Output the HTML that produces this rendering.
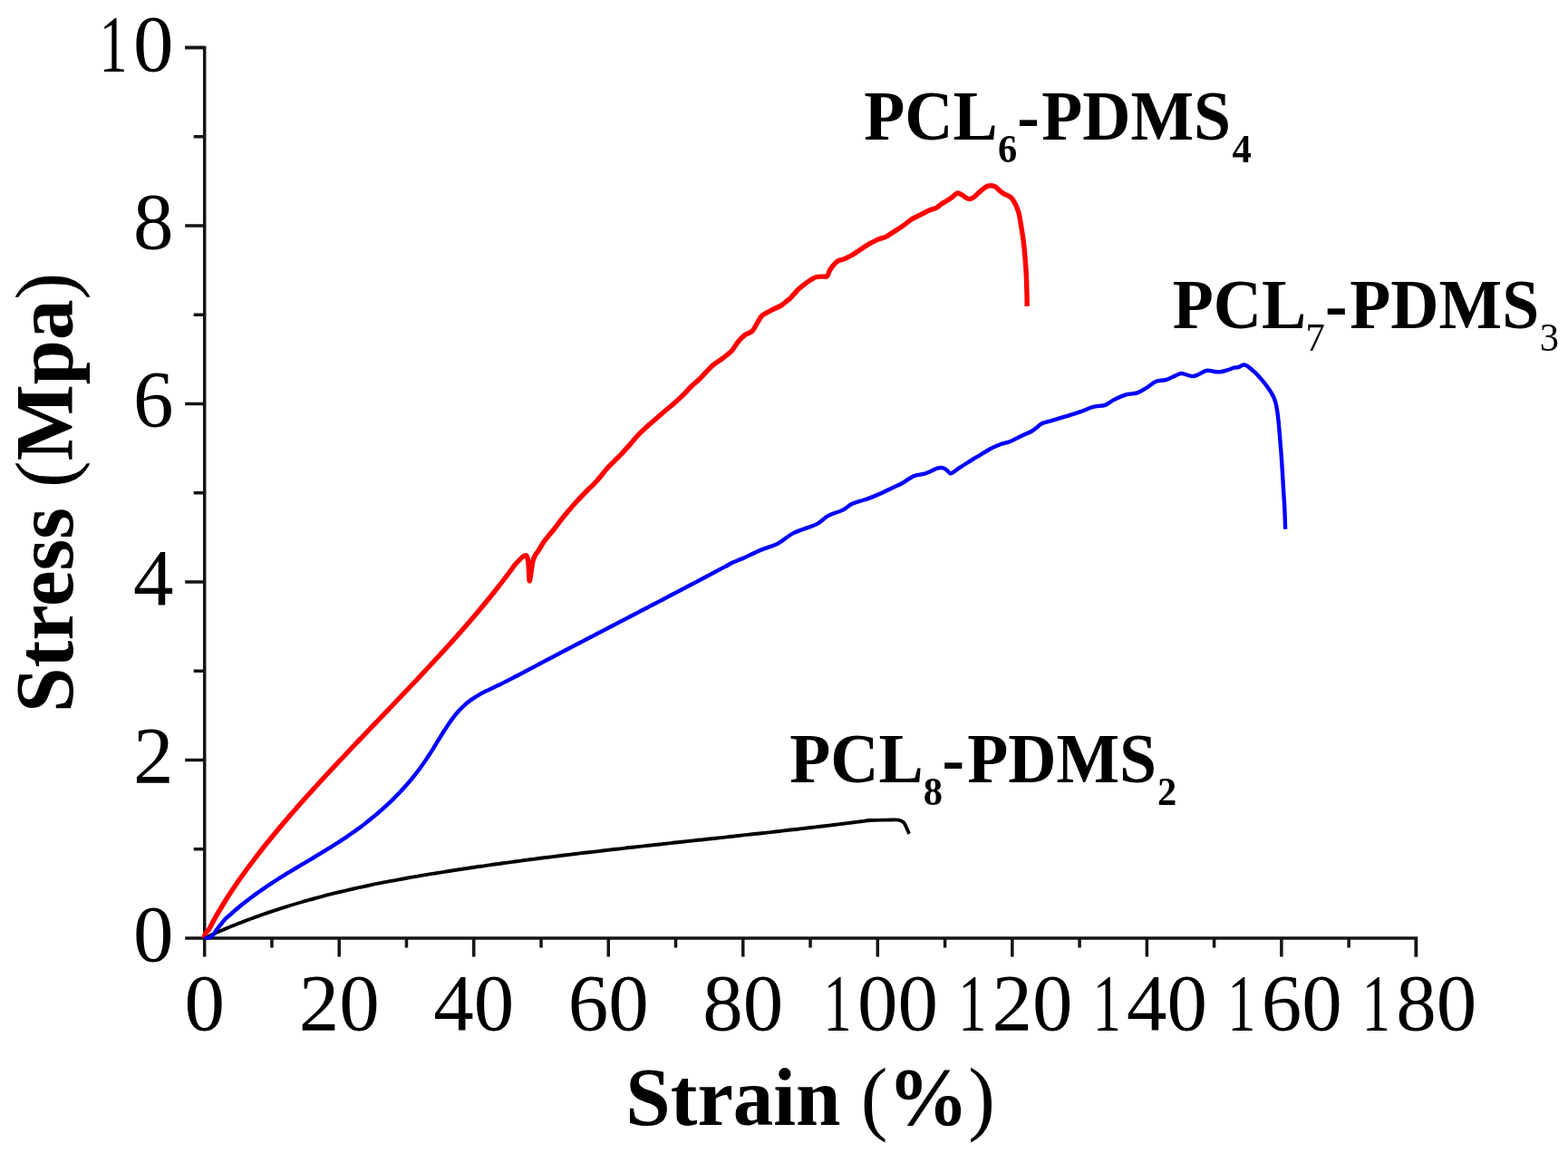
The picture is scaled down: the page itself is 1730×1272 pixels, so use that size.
<!DOCTYPE html>
<html><head><meta charset="utf-8"><style>
html,body{margin:0;padding:0;background:#fff;}
body{width:1730px;height:1272px;overflow:hidden;}
svg{display:block;}
text{font-family:"Liberation Serif","Times New Roman",serif;fill:#000;}
</style></head><body>
<svg width="1730" height="1272" viewBox="0 0 1730 1272">
<path d="M204.2 52.5H225.7V1034.9H1562.4V1055.4" fill="none" stroke="#151515" stroke-width="3.5" stroke-linejoin="miter"/>
<path d="M225.70 1034.90V1055.40M299.96 1034.90V1045.40M374.22 1034.90V1055.40M448.48 1034.90V1045.40M522.74 1034.90V1055.40M597.01 1034.90V1045.40M671.27 1034.90V1055.40M745.53 1034.90V1045.40M819.79 1034.90V1055.40M894.05 1034.90V1045.40M968.31 1034.90V1055.40M1042.57 1034.90V1045.40M1116.83 1034.90V1055.40M1191.09 1034.90V1045.40M1265.36 1034.90V1055.40M1339.62 1034.90V1045.40M1413.88 1034.90V1055.40M1488.14 1034.90V1045.40M1562.40 1034.90V1055.40M225.70 1034.90H204.20M225.70 936.66H213.70M225.70 838.42H204.20M225.70 740.18H213.70M225.70 641.94H204.20M225.70 543.70H213.70M225.70 445.46H204.20M225.70 347.22H213.70M225.70 248.98H204.20M225.70 150.74H213.70M225.70 52.50H204.20" fill="none" stroke="#151515" stroke-width="3.5"/>
<g fill="none" stroke-linejoin="round" stroke-linecap="butt">
<path stroke="#000" stroke-width="3.9" d="M225.6,1034.8C226.7,1034.3 230.1,1032.8 232.0,1031.9C233.9,1031.0 235.3,1030.4 237.0,1029.7C238.7,1028.9 240.3,1028.2 242.0,1027.5C243.7,1026.8 245.3,1026.1 247.0,1025.4C248.7,1024.7 250.3,1024.0 252.0,1023.3C253.7,1022.6 255.3,1021.9 257.0,1021.2C258.7,1020.6 260.3,1019.9 262.0,1019.2C263.7,1018.6 265.3,1017.9 267.0,1017.3C268.7,1016.6 270.3,1016.0 272.0,1015.4C273.7,1014.7 275.3,1014.1 277.0,1013.5C278.7,1012.9 280.3,1012.3 282.0,1011.7C283.7,1011.1 285.3,1010.5 287.0,1009.9C288.7,1009.3 290.3,1008.7 292.0,1008.1C293.7,1007.5 295.7,1006.9 297.0,1006.4C298.3,1005.9 298.5,1005.9 300.0,1005.4C302.2,1004.7 306.7,1003.2 310.0,1002.1C313.3,1001.0 316.7,1000.0 320.0,999.0C323.3,998.0 326.7,997.0 330.0,996.0C333.3,995.0 336.7,994.0 340.0,993.1C343.3,992.2 346.7,991.3 350.0,990.4C353.3,989.5 356.7,988.6 360.0,987.7C363.3,986.9 366.7,986.0 370.0,985.2C373.3,984.4 376.7,983.6 380.0,982.8C383.3,982.0 386.7,981.3 390.0,980.5C393.3,979.8 396.7,979.0 400.0,978.3C403.3,977.6 406.7,976.9 410.0,976.2C413.3,975.5 416.7,974.8 420.0,974.2C423.3,973.5 426.7,972.9 430.0,972.2C433.3,971.6 436.7,971.0 440.0,970.4C443.3,969.7 446.7,969.1 450.0,968.5C453.3,967.9 456.7,967.4 460.0,966.8C463.3,966.2 466.7,965.7 470.0,965.1C473.3,964.5 476.7,964.0 480.0,963.5C483.3,962.9 486.7,962.4 490.0,961.9C493.3,961.3 496.7,960.8 500.0,960.3C503.3,959.8 506.7,959.3 510.0,958.8C513.3,958.3 516.7,957.8 520.0,957.3C523.3,956.8 526.7,956.3 530.0,955.8C533.3,955.3 536.7,954.9 540.0,954.4C543.3,953.9 546.7,953.4 550.0,953.0C553.3,952.5 556.7,952.1 560.0,951.6C563.3,951.1 566.7,950.7 570.0,950.2C573.3,949.8 576.7,949.4 580.0,948.9C583.3,948.5 586.7,948.0 590.0,947.6C593.3,947.2 596.7,946.8 600.0,946.3C603.3,945.9 606.7,945.5 610.0,945.1C613.3,944.7 616.7,944.2 620.0,943.8C623.3,943.4 626.7,943.0 630.0,942.6C633.3,942.2 636.7,941.8 640.0,941.4C643.3,941.0 646.7,940.6 650.0,940.2C653.3,939.8 656.7,939.4 660.0,939.1C663.3,938.7 666.7,938.3 670.0,937.9C673.3,937.5 676.7,937.1 680.0,936.7C683.3,936.4 686.7,936.0 690.0,935.6C693.3,935.2 696.7,934.9 700.0,934.5C703.3,934.1 706.7,933.7 710.0,933.4C713.3,933.0 716.7,932.6 720.0,932.3C723.3,931.9 726.7,931.5 730.0,931.2C733.3,930.8 736.7,930.4 740.0,930.1C743.3,929.7 746.7,929.4 750.0,929.0C753.3,928.6 756.7,928.3 760.0,927.9C763.3,927.5 766.7,927.2 770.0,926.8C773.3,926.5 776.7,926.1 780.0,925.7C783.3,925.4 786.7,925.0 790.0,924.7C793.3,924.3 796.7,923.9 800.0,923.6C803.3,923.2 806.7,922.8 810.0,922.5C813.3,922.1 816.7,921.8 820.0,921.4C823.3,921.0 826.7,920.7 830.0,920.3C833.3,919.9 836.7,919.6 840.0,919.2C843.3,918.8 846.7,918.4 850.0,918.1C853.3,917.7 856.7,917.3 860.0,917.0C863.3,916.6 866.7,916.2 870.0,915.8C873.3,915.4 876.7,915.1 880.0,914.7C883.3,914.3 886.7,913.9 890.0,913.5C893.3,913.1 896.7,912.8 900.0,912.4C903.3,912.0 906.7,911.6 910.0,911.2C913.3,910.8 916.7,910.4 920.0,910.0C923.3,909.6 926.7,909.2 930.0,908.8C933.3,908.4 936.7,907.9 940.0,907.5C943.3,907.1 946.7,906.7 950.0,906.3C953.3,905.9 955.1,905.3 960.0,905.0C964.9,904.7 974.0,904.7 979.2,904.6C984.4,904.5 988.4,904.1 991.4,904.6C994.4,905.1 995.6,905.9 997.1,907.4C998.6,908.9 999.3,911.4 1000.3,913.5C1001.3,915.6 1002.6,918.8 1003.1,919.9"/>
<path stroke="#ff0000" stroke-width="5.4" d="M225.6,1034.8C225.7,1034.1 225.5,1032.1 226.3,1030.5C227.1,1028.9 229.4,1026.9 230.7,1025.0C232.0,1023.1 232.8,1021.0 233.9,1019.0C234.9,1017.0 236.0,1015.0 237.2,1013.0C238.3,1011.0 239.4,1009.0 240.6,1007.0C241.8,1005.0 243.0,1003.0 244.2,1001.0C245.4,999.0 246.6,997.0 247.8,995.0C249.1,993.0 250.4,991.0 251.6,989.0C252.9,987.0 254.2,985.0 255.6,983.0C256.9,981.0 258.2,979.0 259.6,977.0C261.0,975.0 262.3,973.0 263.7,971.0C265.1,969.0 266.5,967.0 268.0,965.0C269.4,963.0 270.8,961.0 272.3,959.0C273.8,957.0 275.3,955.0 276.8,953.0C278.3,951.0 279.8,949.0 281.3,947.0C282.8,945.0 284.4,943.0 285.9,941.0C287.5,939.0 289.0,937.0 290.6,935.0C292.2,933.0 293.8,931.0 295.4,929.0C297.0,927.0 298.7,925.0 300.3,923.0C301.9,921.0 303.6,919.0 305.3,917.0C306.9,915.0 308.6,913.0 310.3,911.0C312.0,909.0 313.7,907.0 315.4,905.0C317.1,903.0 318.8,901.0 320.5,899.0C322.3,897.0 324.0,895.0 325.8,893.0C327.5,891.0 329.3,889.0 331.0,887.0C332.8,885.0 334.6,883.0 336.4,881.0C338.2,879.0 340.0,877.0 341.8,875.0C343.6,873.0 345.4,871.0 347.2,869.0C349.0,867.0 350.9,865.0 352.7,863.0C354.5,861.0 356.4,859.0 358.2,857.0C360.1,855.0 361.9,853.0 363.8,851.0C365.6,849.0 367.5,847.0 369.4,845.0C371.3,843.0 373.1,841.0 375.0,839.0C376.9,837.0 378.8,835.0 380.7,833.0C382.5,831.0 384.4,829.0 386.3,827.0C388.2,825.0 390.1,823.0 392.0,821.0C393.9,819.0 395.8,817.0 397.8,815.0C399.7,813.0 401.6,811.0 403.5,809.0C405.4,807.0 407.3,805.0 409.2,803.0C411.1,801.0 413.0,799.0 415.0,797.0C416.9,795.0 418.8,793.0 420.7,791.0C422.6,789.0 424.5,787.0 426.4,785.0C428.4,783.0 430.3,781.0 432.2,779.0C434.1,777.0 436.0,775.0 437.9,773.0C439.8,771.0 441.7,769.0 443.6,767.0C445.5,765.0 447.4,763.0 449.3,761.0C451.2,759.0 453.1,757.0 455.0,755.0C456.9,753.0 458.8,751.0 460.7,749.0C462.6,747.0 464.4,745.0 466.3,743.0C468.2,741.0 470.1,739.0 471.9,737.0C473.8,735.0 475.7,733.0 477.5,731.0C479.4,729.0 481.2,727.0 483.0,725.0C484.9,723.0 486.7,721.0 488.5,719.0C490.4,717.0 492.2,715.0 494.0,713.0C495.8,711.0 497.6,709.0 499.4,707.0C501.2,705.0 503.0,703.0 504.8,701.0C506.5,699.0 508.3,697.0 510.1,695.0C511.8,693.0 513.6,691.0 515.3,689.0C517.0,687.0 518.8,685.0 520.5,683.0C522.2,681.0 523.9,679.0 525.6,677.0C527.3,675.0 529.0,673.0 530.6,671.0C532.3,669.0 534.0,667.0 535.6,665.0C537.3,663.0 538.9,661.0 540.5,659.0C542.2,657.0 543.8,655.0 545.4,653.0C546.9,651.0 548.5,649.0 550.1,647.0C551.7,645.0 553.2,643.0 554.7,641.0C556.3,639.0 557.8,637.0 559.3,635.0C560.8,633.0 562.3,631.0 563.8,629.0C565.3,627.0 566.0,625.4 568.2,623.0C570.3,620.6 574.4,616.2 576.5,614.5C578.4,613.0 579.9,611.8 581.0,613.0C582.1,614.2 582.5,617.4 583.0,622.0C583.5,626.6 583.7,638.5 584.1,640.5C584.5,642.5 585.0,637.2 585.6,634.0C586.2,630.8 586.9,624.2 587.5,621.0C588.1,617.8 588.4,616.8 589.5,614.5C590.6,612.2 592.3,610.2 594.0,607.5C595.7,604.8 597.9,600.9 599.7,598.2C601.5,595.5 603.2,593.7 605.0,591.5C606.8,589.3 608.1,587.9 610.4,585.0C612.7,582.1 615.8,577.7 618.7,574.0C621.6,570.3 624.6,566.7 627.7,563.0C630.8,559.3 633.9,555.8 637.4,552.0C640.9,548.2 645.2,543.9 648.5,540.5C651.8,537.1 653.7,535.9 657.4,531.8C661.1,527.7 667.0,520.0 670.8,515.8C674.6,511.6 677.7,508.7 680.0,506.4C682.2,504.2 682.3,504.3 684.5,502.0C686.9,499.5 690.9,495.1 694.2,491.4C697.5,487.7 700.6,483.6 704.4,479.7C708.2,475.8 713.6,470.9 716.9,467.9C720.2,464.9 721.6,463.9 724.4,461.5C727.2,459.1 730.3,456.2 733.5,453.5C736.7,450.8 740.4,447.9 743.7,445.0C747.1,442.1 750.4,439.1 753.6,435.9C756.8,432.7 759.9,429.1 763.0,426.0C766.1,422.9 769.8,420.2 772.5,417.5C775.2,414.8 777.1,412.4 779.5,410.0C781.9,407.6 783.9,405.2 786.6,402.9C789.4,400.6 793.2,398.3 796.0,396.3C798.8,394.3 801.1,392.4 803.1,390.7C805.1,389.0 805.9,388.6 807.8,386.4C809.6,384.1 812.0,379.9 814.2,377.2C816.4,374.5 819.2,371.8 821.2,370.1C823.2,368.5 824.8,368.2 826.4,367.3C828.0,366.4 829.2,366.2 830.7,364.4C832.2,362.6 833.8,359.0 835.4,356.4C837.0,353.8 838.5,350.7 840.1,348.9C841.7,347.1 842.8,346.8 844.8,345.6C846.8,344.4 849.5,343.0 851.9,341.8C854.3,340.6 857.0,339.5 859.0,338.5C861.0,337.5 862.1,336.8 863.7,335.7C865.3,334.6 866.9,333.1 868.4,331.9C869.9,330.7 870.6,330.4 872.5,328.5C874.4,326.5 877.6,322.4 880.0,320.0C882.4,317.6 884.8,315.8 887.1,314.0C889.5,312.2 891.8,310.4 894.1,309.0C896.5,307.6 898.8,306.1 901.2,305.5C903.6,304.9 906.4,305.2 908.3,305.1C910.2,305.0 911.3,305.9 912.5,304.8C913.7,303.7 914.3,300.3 915.4,298.4C916.5,296.5 917.4,295.1 918.9,293.4C920.4,291.7 922.1,289.4 924.2,288.1C926.3,286.8 928.7,286.8 931.3,285.7C933.9,284.6 937.0,283.2 940.0,281.5C943.0,279.8 946.2,277.4 949.4,275.3C952.5,273.2 955.8,271.0 958.9,269.2C962.0,267.4 965.2,265.8 968.3,264.4C971.4,263.0 974.6,262.7 977.7,261.1C980.9,259.5 984.1,257.0 987.2,255.0C990.4,253.0 993.5,251.1 996.6,248.9C999.7,246.7 1002.6,243.9 1006.0,241.8C1009.4,239.7 1013.7,237.9 1017.0,236.2C1020.3,234.5 1023.0,233.0 1025.8,231.8C1028.5,230.6 1031.3,230.3 1033.5,229.1C1035.7,227.9 1037.1,226.1 1039.1,224.7C1041.1,223.3 1043.7,222.1 1045.7,220.8C1047.7,219.5 1049.5,218.3 1051.2,217.0C1052.9,215.7 1054.4,213.5 1056.1,213.1C1057.8,212.7 1059.4,213.9 1061.1,214.8C1062.8,215.7 1064.9,217.9 1066.5,218.7C1068.1,219.5 1069.0,219.8 1070.5,219.5C1072.0,219.2 1073.2,218.6 1075.2,217.0C1077.2,215.4 1080.1,212.1 1082.6,210.1C1085.1,208.1 1087.7,205.8 1090.2,205.1C1092.7,204.4 1095.6,204.9 1097.7,205.7C1099.8,206.5 1101.0,208.7 1102.7,210.1C1104.4,211.5 1105.7,212.6 1107.8,213.9C1109.9,215.2 1113.2,215.8 1115.3,217.7C1117.4,219.6 1118.8,222.3 1120.3,225.2C1121.8,228.1 1123.0,231.2 1124.1,235.2C1125.1,239.2 1125.8,244.1 1126.6,249.1C1127.4,254.1 1128.4,259.5 1129.1,265.4C1129.8,271.3 1130.5,278.0 1131.0,284.3C1131.5,290.6 1132.0,296.8 1132.3,303.1C1132.6,309.4 1132.8,316.2 1132.9,322.0C1133.1,327.8 1133.2,335.3 1133.2,338.0"/>
<path stroke="#0000ff" stroke-width="4.4" d="M225.6,1034.8C226.5,1034.7 229.4,1034.8 231.0,1034.3C232.6,1033.8 233.9,1032.9 235.0,1031.8C236.1,1030.7 236.7,1029.0 237.6,1027.7C238.5,1026.4 238.8,1025.9 240.2,1024.2C241.9,1022.0 245.7,1017.1 248.0,1014.5C250.3,1012.0 252.0,1010.8 254.0,1009.1C256.0,1007.3 258.0,1005.5 260.0,1003.8C262.0,1002.1 264.0,1000.5 266.0,998.8C268.0,997.2 270.0,995.6 272.0,994.1C274.0,992.5 276.0,991.0 278.0,989.5C280.0,988.0 282.0,986.5 284.0,985.1C286.0,983.7 288.0,982.3 290.0,980.9C292.0,979.5 294.0,978.2 296.0,976.8C298.0,975.5 300.0,974.2 302.0,972.9C304.0,971.6 306.0,970.3 308.0,969.0C310.0,967.8 312.0,966.5 314.0,965.3C316.0,964.1 318.0,962.8 320.0,961.6C322.0,960.4 324.0,959.2 326.0,958.0C328.0,956.8 330.0,955.6 332.0,954.4C334.0,953.2 336.0,952.0 338.0,950.9C340.0,949.7 342.0,948.5 344.0,947.3C346.0,946.1 348.0,944.9 350.0,943.7C352.0,942.5 354.0,941.3 356.0,940.1C358.0,938.9 360.0,937.7 362.0,936.4C364.0,935.2 366.0,933.9 368.0,932.7C370.0,931.4 372.0,930.1 374.0,928.8C376.0,927.5 378.0,926.2 380.0,924.9C382.0,923.5 384.0,922.2 386.0,920.8C388.0,919.4 390.0,918.0 392.0,916.6C394.0,915.1 396.0,913.7 398.0,912.2C400.0,910.7 402.0,909.2 404.0,907.6C406.0,906.1 408.0,904.5 410.0,902.8C412.0,901.2 414.0,899.6 416.0,897.9C418.0,896.1 420.0,894.4 422.0,892.6C424.0,890.8 426.0,889.0 428.0,887.1C430.0,885.3 432.0,883.3 434.0,881.4C436.0,879.4 438.0,877.4 440.0,875.3C442.0,873.2 444.0,871.1 446.0,868.8C448.0,866.6 450.0,864.3 452.0,862.0C454.0,859.6 456.0,857.1 458.0,854.6C460.0,852.0 462.0,849.4 464.0,846.7C466.0,843.9 468.0,841.1 470.0,838.1C472.0,835.2 474.3,831.5 476.0,828.9C477.7,826.3 478.0,825.7 480.0,822.5C482.0,819.3 485.3,813.7 488.0,809.5C490.7,805.3 493.3,801.1 496.0,797.2C498.7,793.4 501.3,789.8 504.0,786.7C506.7,783.6 509.3,780.8 512.0,778.4C514.7,775.9 517.3,773.8 520.0,771.9C522.7,770.0 525.3,768.4 528.0,766.8C530.7,765.3 533.3,763.9 536.0,762.6C538.7,761.3 541.3,760.0 544.0,758.8C546.7,757.5 549.3,756.2 552.0,754.9C554.7,753.6 557.3,752.2 560.0,750.9C562.7,749.5 565.3,748.2 568.0,746.8C570.7,745.4 573.3,744.0 576.0,742.6C578.7,741.2 581.3,739.8 584.0,738.4C586.7,737.0 589.3,735.6 592.0,734.1C594.7,732.7 597.3,731.3 600.0,729.9C602.7,728.5 605.3,727.1 608.0,725.7C610.7,724.3 613.3,722.9 616.0,721.5C618.7,720.1 621.3,718.7 624.0,717.3C626.7,715.9 629.3,714.5 632.0,713.1C634.7,711.7 637.3,710.4 640.0,709.0C642.7,707.6 645.3,706.2 648.0,704.8C650.7,703.4 653.3,702.0 656.0,700.6C658.7,699.2 661.3,697.8 664.0,696.5C666.7,695.1 669.3,693.7 672.0,692.3C674.7,690.9 677.3,689.5 680.0,688.1C682.7,686.7 685.3,685.4 688.0,684.0C690.7,682.6 693.3,681.2 696.0,679.8C698.7,678.4 701.3,677.0 704.0,675.6C706.7,674.2 709.3,672.9 712.0,671.5C714.7,670.1 717.3,668.7 720.0,667.3C722.7,665.9 725.3,664.5 728.0,663.1C730.7,661.7 733.3,660.3 736.0,658.9C738.7,657.5 741.3,656.1 744.0,654.7C746.7,653.3 749.3,651.9 752.0,650.5C754.7,649.1 757.3,647.7 760.0,646.3C762.7,644.9 765.3,643.5 768.0,642.1C770.7,640.7 773.3,639.3 776.0,637.9C778.7,636.5 781.3,635.0 784.0,633.6C786.7,632.2 789.3,630.8 792.0,629.4C794.7,627.9 797.3,626.5 800.0,625.1C802.7,623.7 805.5,622.0 808.0,620.8C810.5,619.6 813.0,618.7 815.0,617.8C817.0,616.9 817.7,616.9 820.3,615.7C824.4,613.8 833.5,609.2 839.8,606.6C846.1,604.0 851.9,603.0 857.9,599.9C863.9,596.8 868.6,591.5 875.9,587.9C883.1,584.3 895.1,581.2 901.4,578.1C907.7,575.0 908.7,571.7 913.5,569.1C918.3,566.5 925.7,564.8 930.0,562.6C934.3,560.5 936.1,557.8 939.2,556.2C942.3,554.6 945.4,553.9 948.5,552.9C951.6,551.9 954.6,551.2 957.7,550.1C960.8,549.0 963.9,547.7 967.0,546.4C970.1,545.1 973.1,543.8 976.2,542.3C979.3,540.8 982.4,539.2 985.5,537.7C988.6,536.2 991.6,535.2 994.7,533.5C997.8,531.8 1001.5,529.0 1004.0,527.5C1006.5,526.0 1007.3,525.4 1010.0,524.6C1012.7,523.8 1017.1,523.4 1020.0,522.6C1022.9,521.8 1024.8,520.8 1027.1,519.8C1029.4,518.8 1032.0,517.2 1034.1,516.6C1036.2,516.0 1038.1,515.9 1039.8,516.2C1041.5,516.5 1042.7,517.3 1044.1,518.3C1045.5,519.3 1047.0,521.8 1048.3,522.2C1049.6,522.6 1050.2,521.8 1051.8,520.8C1053.6,519.8 1056.0,517.8 1058.9,515.9C1061.9,514.0 1066.0,511.3 1069.5,509.1C1073.0,506.9 1076.3,505.0 1080.0,502.8C1083.7,500.6 1087.8,497.8 1091.6,495.7C1095.4,493.6 1099.2,491.9 1103.1,490.5C1106.9,489.1 1110.8,488.6 1114.7,487.0C1118.6,485.4 1122.4,483.0 1126.2,481.2C1130.0,479.4 1134.9,477.5 1137.8,476.0C1140.7,474.5 1141.7,473.4 1143.6,472.0C1145.5,470.6 1146.5,468.7 1149.4,467.3C1152.3,465.9 1157.1,465.0 1160.9,463.9C1164.8,462.8 1169.3,461.4 1172.5,460.4C1175.7,459.4 1176.7,459.2 1180.0,458.1C1183.3,457.1 1188.2,455.6 1192.5,454.1C1196.8,452.6 1201.5,450.1 1206.0,448.9C1210.5,447.7 1215.7,448.1 1219.5,446.8C1223.3,445.5 1225.1,443.0 1228.9,441.1C1232.7,439.2 1238.1,436.7 1242.4,435.4C1246.7,434.1 1251.1,434.6 1254.9,433.3C1258.7,432.0 1261.8,429.7 1265.3,427.6C1268.8,425.5 1272.2,422.2 1275.7,420.8C1279.2,419.4 1282.6,420.2 1286.1,419.2C1289.6,418.2 1293.5,415.8 1296.5,414.6C1299.5,413.4 1300.7,411.9 1303.8,412.0C1306.9,412.1 1312.0,415.0 1315.3,415.1C1318.6,415.2 1320.8,413.6 1323.6,412.5C1326.4,411.4 1328.4,409.2 1331.9,408.8C1335.4,408.4 1340.6,410.5 1344.4,410.4C1348.2,410.3 1352.2,408.8 1355.0,408.0C1357.8,407.2 1359.4,406.2 1361.3,405.7C1363.2,405.2 1364.6,405.7 1366.3,405.2C1368.0,404.7 1369.9,402.9 1371.4,402.6C1372.9,402.3 1373.6,402.5 1375.1,403.2C1376.6,403.9 1378.3,405.4 1380.2,407.0C1382.1,408.6 1384.3,410.5 1386.4,412.6C1388.5,414.7 1390.6,417.1 1392.7,419.6C1394.8,422.1 1397.1,425.0 1399.0,427.7C1400.9,430.4 1402.7,433.3 1404.1,435.9C1405.5,438.5 1406.4,440.7 1407.2,443.5C1408.0,446.3 1408.6,449.8 1409.1,452.9C1409.6,456.0 1409.8,457.6 1410.3,462.3C1410.8,467.0 1411.4,473.6 1412.0,481.2C1412.6,488.8 1413.5,499.0 1414.1,507.8C1414.7,516.6 1415.2,525.5 1415.7,534.3C1416.2,543.1 1416.9,552.6 1417.3,560.8C1417.7,569.0 1418.0,579.9 1418.1,583.7"/>
</g>
<g font-size="89"><text x="203.45" y="1135.80">0</text>
<text x="329.72" y="1135.80">20</text>
<text x="478.24" y="1135.80">40</text>
<text x="626.77" y="1135.80">60</text>
<text x="775.29" y="1135.80">80</text>
<text x="901.56" y="1135.80"><tspan dx="7.05" textLength="31.15" lengthAdjust="spacingAndGlyphs">1</tspan><tspan dx="6.30">0</tspan>0</text>
<text x="1050.08" y="1135.80"><tspan dx="7.05" textLength="31.15" lengthAdjust="spacingAndGlyphs">1</tspan><tspan dx="6.30">2</tspan>0</text>
<text x="1198.61" y="1135.80"><tspan dx="7.05" textLength="31.15" lengthAdjust="spacingAndGlyphs">1</tspan><tspan dx="6.30">4</tspan>0</text>
<text x="1347.13" y="1135.80"><tspan dx="7.05" textLength="31.15" lengthAdjust="spacingAndGlyphs">1</tspan><tspan dx="6.30">6</tspan>0</text>
<text x="1495.65" y="1135.80"><tspan dx="7.05" textLength="31.15" lengthAdjust="spacingAndGlyphs">1</tspan><tspan dx="6.30">8</tspan>0</text></g>
<g font-size="89"><text x="147.00" y="1059.90">0</text>
<text x="147.00" y="863.42">2</text>
<text x="147.00" y="666.94">4</text>
<text x="147.00" y="470.46">6</text>
<text x="147.00" y="273.98">8</text>
<text x="102.50" y="77.50"><tspan dx="7.05" textLength="31.15" lengthAdjust="spacingAndGlyphs">1</tspan><tspan dx="6.30">0</tspan></text></g>
<text transform="translate(690.29,1241.00) scale(0.983,1)" font-size="90.5" font-weight="bold">Strain <tspan font-weight="normal">(</tspan>%<tspan font-weight="normal">)</tspan></text>
<text transform="translate(79.50,785.91) rotate(-90) scale(0.983,1)" font-size="90.5" font-weight="bold">Stress <tspan font-weight="normal">(</tspan>Mpa<tspan font-weight="normal">)</tspan></text>
<text transform="scale(0.945,1)" font-size="78" font-weight="bold"><tspan x="1008.83" y="154.30" font-weight="bold">PCL</tspan><tspan x="1165.14" y="179.30" font-size="45" font-weight="bold">6</tspan><tspan x="1187.48" y="154.30" font-weight="bold">-</tspan><tspan x="1216.13" y="154.30" font-weight="bold">PDMS</tspan><tspan x="1438.74" y="179.30" font-size="45" font-weight="bold">4</tspan></text>
<text transform="scale(0.945,1)" font-size="78" font-weight="bold"><tspan x="1369.04" y="361.70" font-weight="bold">PCL</tspan><tspan x="1524.23" y="387.00" font-size="45" font-weight="normal">7</tspan><tspan x="1547.17" y="361.70" font-weight="bold">-</tspan><tspan x="1576.03" y="361.70" font-weight="bold">PDMS</tspan><tspan x="1797.73" y="387.00" font-size="45" font-weight="normal">3</tspan></text>
<text transform="scale(0.945,1)" font-size="78" font-weight="bold"><tspan x="922.06" y="863.20" font-weight="bold">PCL</tspan><tspan x="1077.99" y="888.40" font-size="45" font-weight="bold">8</tspan><tspan x="1100.08" y="863.20" font-weight="bold">-</tspan><tspan x="1129.26" y="863.20" font-weight="bold">PDMS</tspan><tspan x="1351.23" y="888.40" font-size="45" font-weight="bold">2</tspan></text>
</svg>
</body></html>
